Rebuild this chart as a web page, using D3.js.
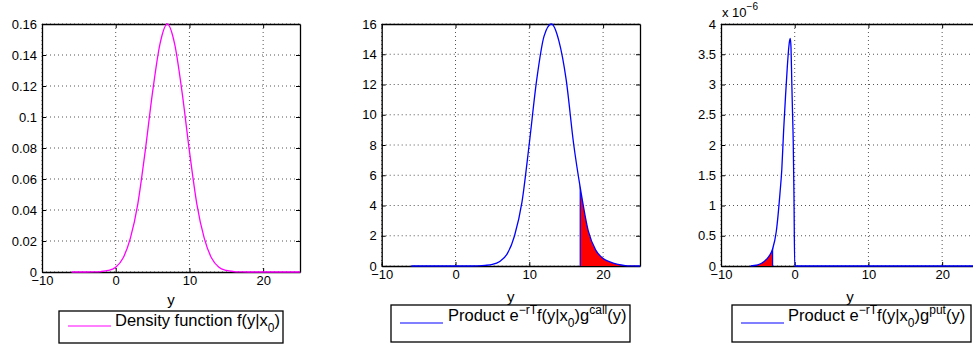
<!DOCTYPE html>
<html>
<head>
<meta charset="utf-8">
<script src="https://cdn.jsdelivr.net/npm/d3@7"></script>
<style>
body { margin: 0; background: #fff; }
svg { display: block; font-family: "Liberation Sans", Arial, sans-serif; }
</style>
</head>
<body>
<div id="chart"></div>
<script>
// grid of y values used by the first two panels
var yGrid = [-6, -5, -4, -3, -2, -1, 0, 1, 2, 3, 4, 5, 6, 7, 8, 9, 10,
    11, 12, 13, 14, 15, 16, 17, 18, 19, 20, 21, 22, 23, 24, 25];

var densityVals = [0, 0, 0, 0.0001, 0.0003, 0.001, 0.003, 0.009, 0.022, 0.044, 0.078, 0.116, 0.147, 0.16, 0.147, 0.116, 0.078,
    0.044, 0.022, 0.009, 0.003, 0.001, 0.0003, 0.0001, 0, 0, 0, 0, 0, 0, 0, 0];

var callVals = [0, 0, 0, 0, 0, 0, 0, 0, 0, 0.01, 0.04, 0.1, 0.3, 0.8, 2.0, 4.2, 8.1,
    12.3, 15.2, 16, 14.9, 12.3, 8.1, 4.9, 2.3, 1.05, 0.5, 0.25, 0.1, 0.03, 0.01, 0];

// put product, in units of 1e-6
var putX = [-6, -5.5, -5, -4.5, -4, -3.5, -3, -2.5, -2, -1.75, -1.5, -1.25, -1, -0.8, -0.7, -0.6, -0.5, -0.4, -0.3, -0.2, -0.1, 0, 25];
var putVals = [0.003, 0.008, 0.02, 0.045, 0.09, 0.16, 0.28, 0.57, 1.2, 1.6, 2.25, 2.8, 3.3, 3.62, 3.72, 3.76, 3.6, 3.05, 2.55, 2.05, 1.15, 0, 0];

var callStrike = 16.9;
var putCut = -3;

var xTicks = [-10, 0, 10, 20];
var densityTicks = [0, 0.02, 0.04, 0.06, 0.08, 0.1, 0.12, 0.14, 0.16];
var callTicks = [0, 2, 4, 6, 8, 10, 12, 14, 16];
var putTicks = [0, 0.5, 1, 1.5, 2, 2.5, 3, 3.5, 4];

var width = 973;
var height = 348;

var svg = d3.select('#chart')
    .append('svg')
    .attr('width', width)
    .attr('height', height);

var panels = [
    {
        left: 42, right: 300, top: 24, bottom: 272,
        xs: yGrid, ys: densityVals, yMax: 0.16, ticks: densityTicks,
        color: '#ff00ff', fill: null, labelY: 305,
        box: [59, 311, 224, 32], lineY: 326, textX: 115, textY: 326,
        legend: [['Density function f(y|x', 0], ['0', -1], [')', 0]]
    },
    {
        left: 381.7, right: 640, top: 24, bottom: 266,
        xs: yGrid, ys: callVals, yMax: 16, ticks: callTicks,
        color: '#0000ff', fill: [callStrike, 25], labelY: 302,
        box: [391, 305, 239, 37], lineY: 323, textX: 448, textY: 321,
        legend: [['Product e', 0], ['\u2212rT', 1], ['f(y|x', 0], ['0', -1], [')g', 0], ['call', 1], ['(y)', 0]]
    },
    {
        left: 721, right: 979, top: 24, bottom: 266,
        xs: putX, ys: putVals, yMax: 4, ticks: putTicks,
        color: '#0000ff', fill: [putX[0], putCut], labelY: 302,
        box: [732, 305, 239, 37], lineY: 323, textX: 788, textY: 321,
        legend: [['Product e', 0], ['\u2212rT', 1], ['f(y|x', 0], ['0', -1], [')g', 0], ['put', 1], ['(y)', 0]],
        exponent: true
    }
];

panels.forEach(function (p, i) {
    var x = d3.scaleLinear().domain([-10, 25]).range([p.left, p.right]);
    var y = d3.scaleLinear().domain([0, p.yMax]).range([p.bottom, p.top]);
    var pts = d3.zip(p.xs, p.ys);
    var g = svg.append('g');

    // dotted grid
    g.selectAll('.vgrid')
        .data(xTicks)
        .enter()
        .append('line')
        .attr('x1', function (d) { return x(d); })
        .attr('x2', function (d) { return x(d); })
        .attr('y1', p.top)
        .attr('y2', p.bottom)
        .attr('stroke', '#555')
        .attr('stroke-dasharray', '1,3');

    g.selectAll('.hgrid')
        .data(p.ticks)
        .enter()
        .append('line')
        .attr('x1', p.left)
        .attr('x2', p.right)
        .attr('y1', function (d) { return y(d); })
        .attr('y2', function (d) { return y(d); })
        .attr('stroke', '#555')
        .attr('stroke-dasharray', '1,3');

    // axes, ticks pointing inward on all four sides
    var fmt = d3.format('~g');

    var bottomAxis = g.append('g')
        .attr('transform', 'translate(0,' + p.bottom + ')')
        .call(d3.axisBottom(x).tickValues(xTicks).tickSizeInner(-4).tickSizeOuter(0).tickPadding(4).tickFormat(fmt));
    var leftAxis = g.append('g')
        .attr('transform', 'translate(' + p.left + ',0)')
        .call(d3.axisLeft(y).tickValues(p.ticks).tickSizeInner(-4).tickSizeOuter(0).tickPadding(5).tickFormat(fmt));
    var topAxis = g.append('g')
        .attr('transform', 'translate(0,' + p.top + ')')
        .call(d3.axisTop(x).tickValues(xTicks).tickSizeInner(-4).tickSizeOuter(0).tickFormat(''));
    var rightAxis = g.append('g')
        .attr('transform', 'translate(' + p.right + ',0)')
        .call(d3.axisRight(y).tickValues(p.ticks).tickSizeInner(-4).tickSizeOuter(0).tickFormat(''));

    [bottomAxis, leftAxis, topAxis, rightAxis].forEach(function (a) {
        a.attr('font-size', 13)
            .attr('font-family', '"Liberation Sans", Arial, sans-serif');
        a.selectAll('path, line').attr('stroke', '#000');
        a.select('.domain').attr('stroke-width', 1.3);
        a.selectAll('text').attr('fill', '#000');
    });

    var area = d3.area()
        .x(function (d) { return x(d[0]); })
        .y0(y(0))
        .y1(function (d) { return y(d[1]); })
        .curve(d3.curveMonotoneX);

    var line = d3.line()
        .x(function (d) { return x(d[0]); })
        .y(function (d) { return y(d[1]); })
        .curve(d3.curveMonotoneX);

    // shaded part of the product, clipped to the area under the curve
    if (p.fill) {
        var clipId = 'under-' + i;
        svg.append('clipPath')
            .attr('id', clipId)
            .append('path')
            .attr('d', area(pts));

        g.append('rect')
            .attr('x', x(p.fill[0]))
            .attr('y', p.top)
            .attr('width', x(p.fill[1]) - x(p.fill[0]))
            .attr('height', p.bottom - p.top)
            .attr('fill', '#ff0000')
            .attr('clip-path', 'url(#' + clipId + ')');

        var edge = p.fill[0] === p.xs[0] ? p.fill[1] : p.fill[0];
        g.append('line')
            .attr('x1', x(edge))
            .attr('x2', x(edge))
            .attr('y1', p.top)
            .attr('y2', p.bottom)
            .attr('stroke', p.color)
            .attr('stroke-width', 1.2)
            .attr('clip-path', 'url(#' + clipId + ')');
    }

    g.append('path')
        .attr('d', line(pts))
        .attr('fill', 'none')
        .attr('stroke', p.color)
        .attr('stroke-width', 1.3);

    if (p.exponent) {
        var ex = g.append('text')
            .attr('x', p.left + 1)
            .attr('y', 17)
            .attr('font-size', 13)
            .text('x 10');
        ex.append('tspan')
            .attr('dy', -7)
            .attr('font-size', 10)
            .text('\u22126');
    }

    // x label
    g.append('text')
        .attr('x', (p.left + p.right) / 2)
        .attr('y', p.labelY)
        .attr('text-anchor', 'middle')
        .attr('font-size', 15)
        .text('y');

    // legend
    var lg = g.append('g');
    lg.append('rect')
        .attr('x', p.box[0])
        .attr('y', p.box[1])
        .attr('width', p.box[2])
        .attr('height', p.box[3])
        .attr('fill', '#fff')
        .attr('stroke', '#000')
        .attr('stroke-width', 1.3);

    lg.append('line')
        .attr('x1', p.box[0] + 9)
        .attr('x2', p.box[0] + 52)
        .attr('y1', p.lineY)
        .attr('y2', p.lineY)
        .attr('stroke', p.color)
        .attr('stroke-width', 1.2);

    var txt = lg.append('text')
        .attr('x', p.textX)
        .attr('y', p.textY)
        .attr('font-size', 16.5);

    var shift = 0;
    p.legend.forEach(function (part) {
        var target = part[1] === 1 ? -7 : (part[1] === -1 ? 6 : 0);
        txt.append('tspan')
            .attr('dy', target - shift)
            .attr('font-size', part[1] === 0 ? 16.5 : 12)
            .text(part[0]);
        shift = target;
    });
});
</script>
</body>
</html>
